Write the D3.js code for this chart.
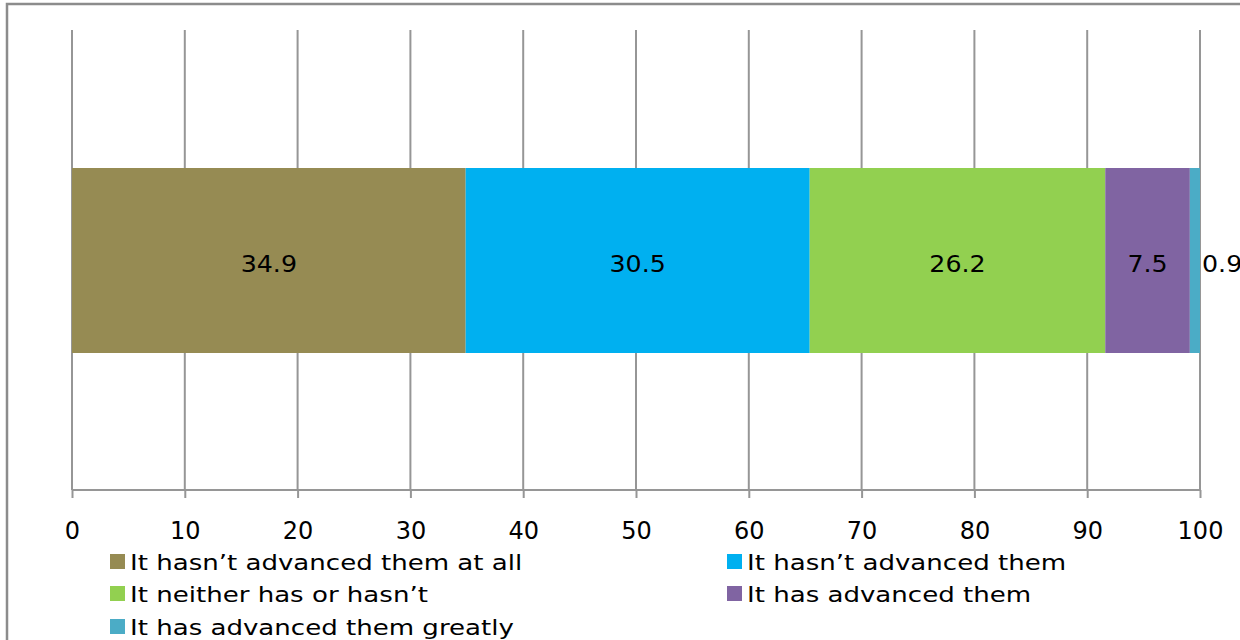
<!DOCTYPE html>
<html>
<head>
<meta charset="utf-8">
<script src="https://cdn.jsdelivr.net/npm/d3@7"></script>
<style>
  html, body { margin: 0; padding: 0; background: #fff; }
  svg { display: block; }
  text { font-family: "DejaVu Sans", sans-serif; fill: #000; }
</style>
</head>
<body>
<svg id="chart" width="1240" height="640"></svg>
<script>
// Responses, in percent
const categories = [
  "It hasn\u2019t advanced them at all",
  "It hasn\u2019t advanced them",
  "It neither has or hasn\u2019t",
  "It has advanced them",
  "It has advanced them greatly"
];
const values = [34.9, 30.5, 26.2, 7.5, 0.9];
const colors = ["#968b53", "#00b0f0", "#92d050", "#8064a2", "#4bacc6"];
const tickValues = [0, 10, 20, 30, 40, 50, 60, 70, 80, 90, 100];

const svg = d3.select("#chart");

// Widen text horizontally to a geometric, broad letterform
function widen(sel, factor) {
  sel.each(function () {
    const w = this.getComputedTextLength();
    d3.select(this).attr("textLength", w * factor).attr("lengthAdjust", "spacingAndGlyphs");
  });
}

// Outer chart frame
svg.append("rect")
  .attr("x", 7).attr("y", 4)
  .attr("width", 1250).attr("height", 660)
  .attr("fill", "#fff")
  .attr("stroke", "#8c8c8c")
  .attr("stroke-width", 2.5);

const plot = { left: 72, right: 1200, top: 30, bottom: 490 };

const x = d3.scaleLinear().domain([0, 100]).range([plot.left, plot.right]);

// Vertical gridlines
svg.append("g")
  .selectAll("line")
  .data(tickValues)
  .join("line")
  .attr("x1", d => x(d)).attr("x2", d => x(d))
  .attr("y1", plot.top).attr("y2", plot.bottom)
  .attr("stroke", "#969696")
  .attr("stroke-width", 2);

// Stacked segments
const stacked = [];
let acc = 0;
values.forEach((v, i) => { stacked.push({ v, x0: acc, x1: acc + v, c: colors[i], i }); acc += v; });

const bandY = 168, bandH = 185;
svg.append("g")
  .selectAll("rect")
  .data(stacked)
  .join("rect")
  .attr("x", d => x(d.x0))
  .attr("y", bandY)
  .attr("width", d => x(d.x1) - x(d.x0))
  .attr("height", bandH)
  .attr("fill", d => d.c);

// Value labels
const last = stacked.length - 1;
svg.append("g")
  .selectAll("text")
  .data(stacked)
  .join("text")
  .attr("x", d => d.i === last ? x(d.x1) + 2 : (x(d.x0) + x(d.x1)) / 2)
  .attr("y", bandY + bandH / 2 + 3)
  .attr("dy", "0.36em")
  .attr("text-anchor", d => d.i === last ? "start" : "middle")
  .attr("font-size", 23)
  .text(d => d.v.toFixed(1))
  .call(widen, 1.1);

// X axis
const axis = d3.axisBottom(x).tickValues(tickValues).tickSize(8).tickPadding(24).tickFormat(d3.format("d"));
const gAxis = svg.append("g")
  .attr("transform", `translate(0,${plot.bottom})`)
  .call(axis);
gAxis.select(".domain").attr("stroke", "#969696").attr("stroke-width", 2).attr("d", `M${plot.left},0H${plot.right}`);
gAxis.selectAll(".tick line").attr("stroke", "#969696").attr("stroke-width", 2);
gAxis.selectAll(".tick text")
  .attr("font-family", "DejaVu Sans, sans-serif")
  .attr("font-size", 24)
  .attr("fill", "#000");

// Legend
const legendPos = [
  { x: 110, y: 562 }, { x: 727, y: 562 },
  { x: 110, y: 594 }, { x: 727, y: 594 },
  { x: 110, y: 627 }
];
const legend = svg.append("g")
  .selectAll("g")
  .data(categories)
  .join("g")
  .attr("transform", (d, i) => `translate(${legendPos[i].x},${legendPos[i].y})`);
legend.append("rect")
  .attr("x", 0).attr("y", -8)
  .attr("width", 15).attr("height", 15)
  .attr("fill", (d, i) => colors[i]);
legend.append("text")
  .attr("x", 20)
  .attr("y", 0)
  .attr("dy", "0.36em")
  .attr("font-size", 21)
  .text(d => d)
  .call(widen, 1.24);
</script>
</body>
</html>
